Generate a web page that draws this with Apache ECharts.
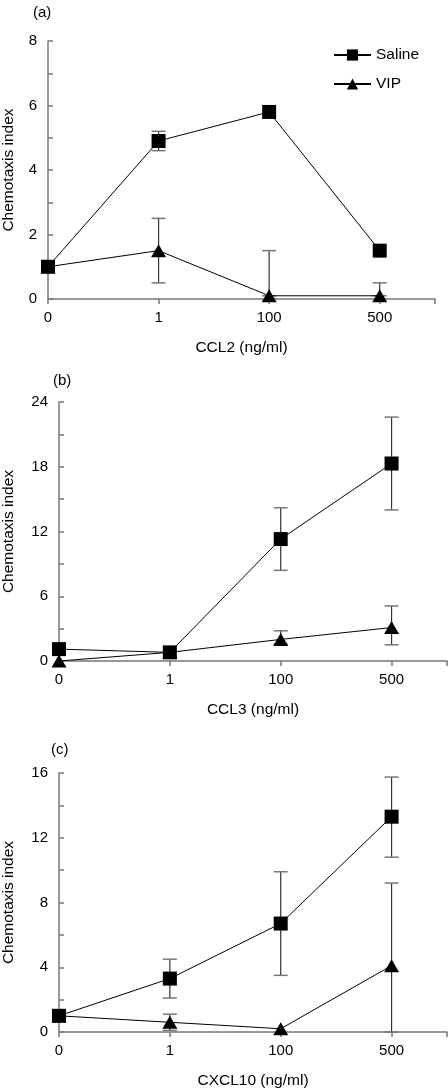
<!DOCTYPE html>
<html>
<head>
<meta charset="utf-8">
<script src="https://cdn.jsdelivr.net/npm/echarts@6/dist/echarts.min.js"></script>
<style>
html,body{margin:0;padding:0;background:#fff;}
#chart{width:448px;height:1092px;}
</style>
</head>
<body>
<div id="chart"></div>
<script>
// ---- data ----
const categories = ['0', '1', '100', '500'];
const panelTitles = ['(a)', '(b)', '(c)'];
const xNames = ['CCL2 (ng/ml)', 'CCL3 (ng/ml)', 'CXCL10 (ng/ml)'];

const salineA = [1.0, 4.9, 5.8, 1.5];
const salineAErr = [null, [4.6, 5.2], null, null];
const vipA = [1.0, 1.5, 0.1, 0.1];
const vipAErr = [null, [0.5, 2.5], [0.1, 1.5], [0.1, 0.5]];

const salineB = [1.1, 0.8, 11.3, 18.3];
const salineBErr = [null, null, [8.4, 14.2], [14.0, 22.6]];
const vipB = [0.0, 0.8, 2.0, 3.1];
const vipBErr = [null, null, [1.6, 2.8], [1.5, 5.1]];

const salineC = [1.0, 3.3, 6.7, 13.3];
const salineCErr = [null, [2.1, 4.5], [3.5, 9.9], [10.8, 15.75]];
const vipC = [1.0, 0.6, 0.2, 4.1];
const vipCErr = [null, [0.1, 1.1], null, [0.0, 9.2]];

const yMax = [8, 24, 16];
const yMinorStep = [1, 3, 2];
const yLabelStep = [2, 6, 4];

// ---- layout ----
const FONT = '"Liberation Sans", Arial, Helvetica, sans-serif';
const grids = [
  {left: 48, top: 41, width: 387, height: 258, outerBoundsMode: 'none', containLabel: false},
  {left: 59, top: 402, width: 388, height: 259, outerBoundsMode: 'none', containLabel: false},
  {left: 59, top: 773, width: 388, height: 259, outerBoundsMode: 'none', containLabel: false}
];
const titlePos = [{left: 33, top: 5}, {left: 53, top: 373}, {left: 51, top: 742}];
const yNameGap = [31, 42, 42];

const sets = [
  {saline: salineA, salineErr: salineAErr, vip: vipA, vipErr: vipAErr},
  {saline: salineB, salineErr: salineBErr, vip: vipB, vipErr: vipBErr},
  {saline: salineC, salineErr: salineCErr, vip: vipC, vipErr: vipCErr}
];

function errData(err) {
  const out = [];
  err.forEach((e, i) => { if (e) out.push([i, e[0], e[1]]); });
  return out;
}
function errRender(params, api) {
  const x = api.value(0);
  const lo = api.coord([x, api.value(1)]);
  const hi = api.coord([x, api.value(2)]);
  const hw = 7;
  return {
    type: 'group',
    children: [
      {type: 'line', shape: {x1: lo[0], y1: lo[1], x2: hi[0], y2: hi[1]}, style: {stroke: '#333', lineWidth: 1.2}},
      {type: 'line', shape: {x1: hi[0] - hw, y1: hi[1], x2: hi[0] + hw, y2: hi[1]}, style: {stroke: '#777', lineWidth: 1.5}},
      {type: 'line', shape: {x1: lo[0] - hw, y1: lo[1], x2: lo[0] + hw, y2: lo[1]}, style: {stroke: '#777', lineWidth: 1.5}}
    ]
  };
}

const xAxes = [], yAxes = [], series = [], titles = [];
grids.forEach((g, k) => {
  titles.push({text: panelTitles[k], left: titlePos[k].left, top: titlePos[k].top, padding: 0,
    textStyle: {fontFamily: FONT, fontSize: 15, fontWeight: 'normal', color: '#000'}});
  xAxes.push({
    type: 'value', gridIndex: k, min: 0, max: 3.5, interval: 1,
    name: xNames[k], nameLocation: 'middle', nameGap: 41,
    nameTextStyle: {fontFamily: FONT, fontSize: 15.5, color: '#000'},
    axisLine: {show: true, onZero: false, lineStyle: {color: '#777', width: 1.5}},
    axisTick: {show: true, inside: false, length: 5, lineStyle: {color: '#777', width: 1.5}},
    axisLabel: {fontFamily: FONT, fontSize: 15, color: '#000', margin: 11,
      formatter: v => (Number.isInteger(v) && categories[v] !== undefined) ? categories[v] : ''},
    splitLine: {show: false}
  });
  yAxes.push({
    type: 'value', gridIndex: k, min: 0, max: yMax[k], interval: yMinorStep[k],
    name: 'Chemotaxis index', nameLocation: 'middle', nameGap: yNameGap[k], nameRotate: 90,
    nameTextStyle: {fontFamily: FONT, fontSize: 15.5, color: '#000'},
    axisLine: {show: true, lineStyle: {color: '#777', width: 1.5}},
    axisTick: {show: true, inside: true, length: 5, lineStyle: {color: '#777', width: 1.5}},
    axisLabel: {fontFamily: FONT, fontSize: 15, color: '#000', margin: 11,
      formatter: v => (v % yLabelStep[k] === 0) ? String(v) : ''},
    splitLine: {show: false}
  });
  const s = sets[k];
  series.push({
    type: 'custom', xAxisIndex: k, yAxisIndex: k, renderItem: errRender,
    data: errData(s.vipErr), z: 1, silent: true
  });
  series.push({
    type: 'custom', xAxisIndex: k, yAxisIndex: k, renderItem: errRender,
    data: errData(s.salineErr), z: 1, silent: true
  });
  series.push({
    name: 'VIP', type: 'line', xAxisIndex: k, yAxisIndex: k,
    data: s.vip.map((v, i) => [i, v]),
    symbol: 'triangle', symbolSize: [15, 13], showAllSymbol: true,
    lineStyle: {color: '#000', width: 1}, itemStyle: {color: '#000'},
    z: 2, animation: false
  });
  series.push({
    name: 'Saline', type: 'line', xAxisIndex: k, yAxisIndex: k,
    data: s.saline.map((v, i) => [i, v]),
    symbol: 'rect', symbolSize: 14, showAllSymbol: true,
    lineStyle: {color: '#000', width: 1}, itemStyle: {color: '#000'},
    z: 3, animation: false
  });
});

const chart = echarts.init(document.getElementById('chart'), null, {renderer: 'canvas'});
chart.setOption({
  backgroundColor: '#fff',
  animation: false,
  title: titles,
  grid: grids,
  xAxis: xAxes,
  yAxis: yAxes,
  legend: {
    data: ['Saline', 'VIP'], orient: 'vertical', left: 333, top: 47, padding: 0,
    itemWidth: 37, itemHeight: 14, itemGap: 13, selectedMode: false,
    textStyle: {fontFamily: FONT, fontSize: 15.5, color: '#000'}
  },
  series: series
});
</script>
</body>
</html>
